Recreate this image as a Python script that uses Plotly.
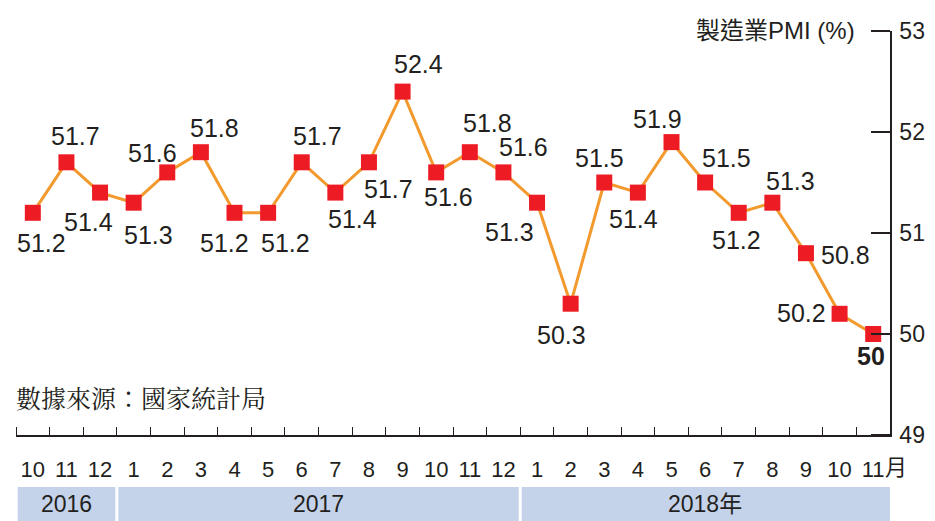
import plotly.graph_objects as go

# ---- data ----
months = ["10", "11", "12", "1", "2", "3", "4", "5", "6", "7", "8", "9",
          "10", "11", "12", "1", "2", "3", "4", "5", "6", "7", "8", "9", "10", "11"]
pmi = [51.2, 51.7, 51.4, 51.3, 51.6, 51.8, 51.2, 51.2, 51.7, 51.4, 51.7, 52.4,
       51.6, 51.8, 51.6, 51.3, 50.3, 51.5, 51.4, 51.9, 51.5, 51.2, 51.3, 50.8, 50.2, 50.0]
value_labels = ["51.2", "51.7", "51.4", "51.3", "51.6", "51.8", "51.2", "51.2", "51.7",
                "51.4", "51.7", "52.4", "51.6", "51.8", "51.6", "51.3", "50.3", "51.5",
                "51.4", "51.9", "51.5", "51.2", "51.3", "50.8", "50.2", "50"]
years = ["2016", "2017", "2018年"]
year_spans = [(0, 2), (3, 14), (15, 25)]   # index ranges of each year
y_ticks = [49, 50, 51, 52, 53]

# ---- styling (label offsets in pixels) ----
label_offsets = [(9, -30), (9, 26), (-12, -29), (15, -32), (-15, 19), (14, 24),
                 (-10, -30), (17, -30), (16, 26), (17, -26), (20, -27), (16, 28),
                 (12, -25), (18, 29), (20, 25), (-28, -29), (-9, -31), (-5, 25),
                 (-4, -26), (-14, 23), (21, 25), (-2, -27), (18, 22), (40, -2),
                 (-38, 1), (-2, -22)]

FONT = "Liberation Sans Narrow, Arial Narrow, Liberation Sans, sans-serif"
TXT = "#231f20"
x_idx = list(range(len(months)))

fig = go.Figure()
fig.add_trace(go.Scatter(
    x=x_idx, y=pmi, mode="lines+markers",
    line=dict(color="#f39a2f", width=3),
    marker=dict(symbol="square", size=16, color="#ed1c24"),
    hoverinfo="skip", cliponaxis=False,
))
# invisible helper trace so the tick-only overlay axis is drawn
fig.add_trace(go.Scatter(x=[x_idx[0]], y=[pmi[0]], yaxis="y2", mode="markers",
                         marker=dict(opacity=0), hoverinfo="skip", showlegend=False))

annotations = []
for i, (v, lab) in enumerate(zip(pmi, value_labels)):
    dx, dy = label_offsets[i]
    bold = (i == len(pmi) - 1)
    annotations.append(dict(
        x=i, y=v, xref="x", yref="y", text=f"<b>{lab}</b>" if bold else lab,
        showarrow=False, xshift=dx, yshift=dy,
        font=dict(family=FONT, size=25, color=TXT),
    ))

# month suffix
annotations.append(dict(x=len(months) - 1, y=0, xref="x", yref="paper", text="月",
                        showarrow=False, xanchor="left", yanchor="middle",
                        xshift=10, yshift=-30,
                        font=dict(family="Noto Sans CJK TC", size=22, color=TXT)))
# axis title
annotations.append(dict(x=1, y=1, xref="paper", yref="paper", text="製造業PMI (%)",
                        showarrow=False, xanchor="right", yanchor="middle",
                        xshift=-33, yshift=1,
                        font=dict(family="Liberation Sans, Noto Sans CJK TC", size=24, color=TXT)))
# source
annotations.append(dict(x=0, y=0.094, xref="paper", yref="paper", text="數據來源：國家統計局",
                        showarrow=False, xanchor="left", yanchor="middle", xshift=-2,
                        font=dict(family="Noto Serif CJK TC, Noto Sans CJK TC", size=25, color=TXT)))

shapes = []
band_edges = [-0.45, 2.5, 14.5, 25.62]
for k, (yr, (a, b)) in enumerate(zip(years, year_spans)):
    shapes.append(dict(type="rect", xref="x", yref="paper",
                       x0=band_edges[k], x1=band_edges[k + 1], y0=-0.2129, y1=-0.1287,
                       fillcolor="#c5d3ea", line=dict(width=0), layer="below"))
    annotations.append(dict(x=(a + b) / 2, y=-0.171, xref="x", yref="paper", text=yr,
                            showarrow=False, xanchor="center", yanchor="middle",
                            font=dict(family="Liberation Sans, Noto Sans CJK TC", size=23, color=TXT)))
for e in band_edges[1:3]:
    shapes.append(dict(type="line", xref="x", yref="paper", x0=e, x1=e,
                       y0=-0.215, y1=-0.125, line=dict(color="white", width=3)))

fig.update_layout(
    width=935, height=521,
    margin=dict(l=16, r=45, t=31, b=86, autoexpand=False),
    plot_bgcolor="white", paper_bgcolor="white",
    showlegend=False,
    annotations=annotations, shapes=shapes,
    xaxis=dict(
        range=[-0.5, len(months) - 0.5], automargin=False,
        tickmode="array", tickvals=x_idx, ticktext=months,
        ticks="", showgrid=False, zeroline=False,
        showline=True, linecolor=TXT, linewidth=1.5,
        tickfont=dict(family=FONT, size=22, color=TXT),
        ticklabelstandoff=14,
        minor=dict(tickmode="linear", tick0=-0.5, dtick=1, ticks="inside",
                   ticklen=8, tickcolor=TXT, tickwidth=1.3, showgrid=False),
    ),
    yaxis=dict(
        range=[49, 53], side="right", automargin=False,
        tickmode="array", tickvals=y_ticks,
        ticks="inside", ticklen=19, tickcolor=TXT, tickwidth=1.5,
        showgrid=False, zeroline=False,
        showline=True, linecolor=TXT, linewidth=1.5,
        tickfont=dict(family=FONT, size=23, color=TXT),
        ticklabelstandoff=3,
    ),
    yaxis2=dict(
        range=[49, 53], overlaying="y", anchor="free", position=1, side="left",
        automargin=False, tickmode="array", tickvals=y_ticks,
        ticks="outside", ticklen=19, tickcolor=TXT, tickwidth=1.5,
        showticklabels=False, showgrid=False, zeroline=False, showline=False,
    ),
)

fig.write_html("out.html")
